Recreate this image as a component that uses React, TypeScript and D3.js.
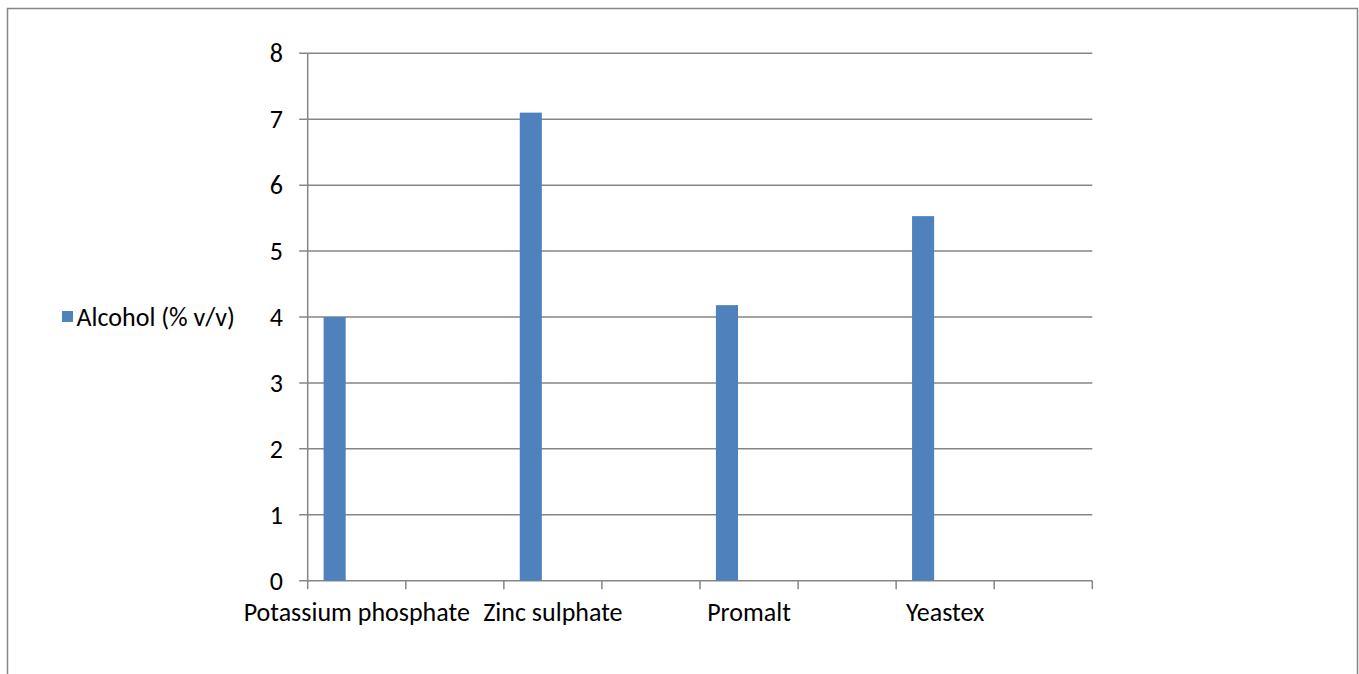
import React from "react";
import * as d3 from "d3";

const categories = ["Potassium phosphate", "", "Zinc sulphate", "", "Promalt", "", "Yeastex", ""];
const alcohol: (number | null)[] = [4.0, null, 7.1, null, 4.18, null, 5.53, null];
const seriesName = "Alcohol (% v/v)";
const seriesSlots = [seriesName, "slot2", "slot3"];
const yTicks = [0, 1, 2, 3, 4, 5, 6, 7, 8];

const W = 1359;
const H = 674;
const FONT = "Carlito, Lato, 'Open Sans', sans-serif";
const AXIS = "#868686";
const BAR = "#4f81bd";

export default function App() {
  const x0 = 307.7, x1 = 1092.3, yTop = 53.3, yBot = 580.7;
  const x = d3.scaleBand<number>().domain(d3.range(categories.length)).range([x0, x1]).paddingInner(0).paddingOuter(0);
  const sub = d3.scaleBand<string>().domain(seriesSlots).range([0, x.bandwidth()]).paddingInner(0).paddingOuter(0.72);
  const y = d3.scaleLinear().domain([0, 8]).range([yBot, yTop]);
  const bw = x.bandwidth();
  const fs = 26;

  return (
    <svg width={W} height={H} style={{ position: "absolute", left: 0, top: 0, background: "#fff" }} fontFamily={FONT}>
      <rect x={7.5} y={8.5} width={1350} height={720} fill="#fff" stroke={AXIS} strokeWidth={1.5} />
      {yTicks.map((t) => (
        <g key={t}>
          <line x1={x0 - 8.5} x2={x1} y1={y(t)} y2={y(t)} stroke={AXIS} strokeWidth={1.5} />
          <text x={283} y={y(t)} dy="0.35em" textAnchor="end" fontSize={fs} fill="#000">
            {t}
          </text>
        </g>
      ))}
      <line x1={x0} x2={x0} y1={yTop} y2={yBot} stroke={AXIS} strokeWidth={1.5} />
      {d3.range(categories.length + 1).map((i) => (
        <line key={i} x1={x0 + i * bw} x2={x0 + i * bw} y1={yBot} y2={yBot + 8.5} stroke={AXIS} strokeWidth={1.5} />
      ))}
      {alcohol.map((v, i) =>
        v == null ? null : (
          <rect
            key={i}
            x={(x(i) as number) + (sub(seriesName) as number)}
            y={y(v)}
            width={sub.bandwidth()}
            height={y(0) - y(v)}
            fill={BAR}
          />
        )
      )}
      {categories.map((c, i) =>
        c ? (
          <text key={i} x={(x(i) as number) + bw / 2} y={621} textAnchor="middle" fontSize={fs} fill="#000">
            {c}
          </text>
        ) : null
      )}
      <rect x={62} y={311} width={11} height={11} fill={BAR} />
      <text x={235} y={317} dy="0.35em" textAnchor="end" fontSize={fs} fill="#000">
        {seriesName}
      </text>
    </svg>
  );
}
